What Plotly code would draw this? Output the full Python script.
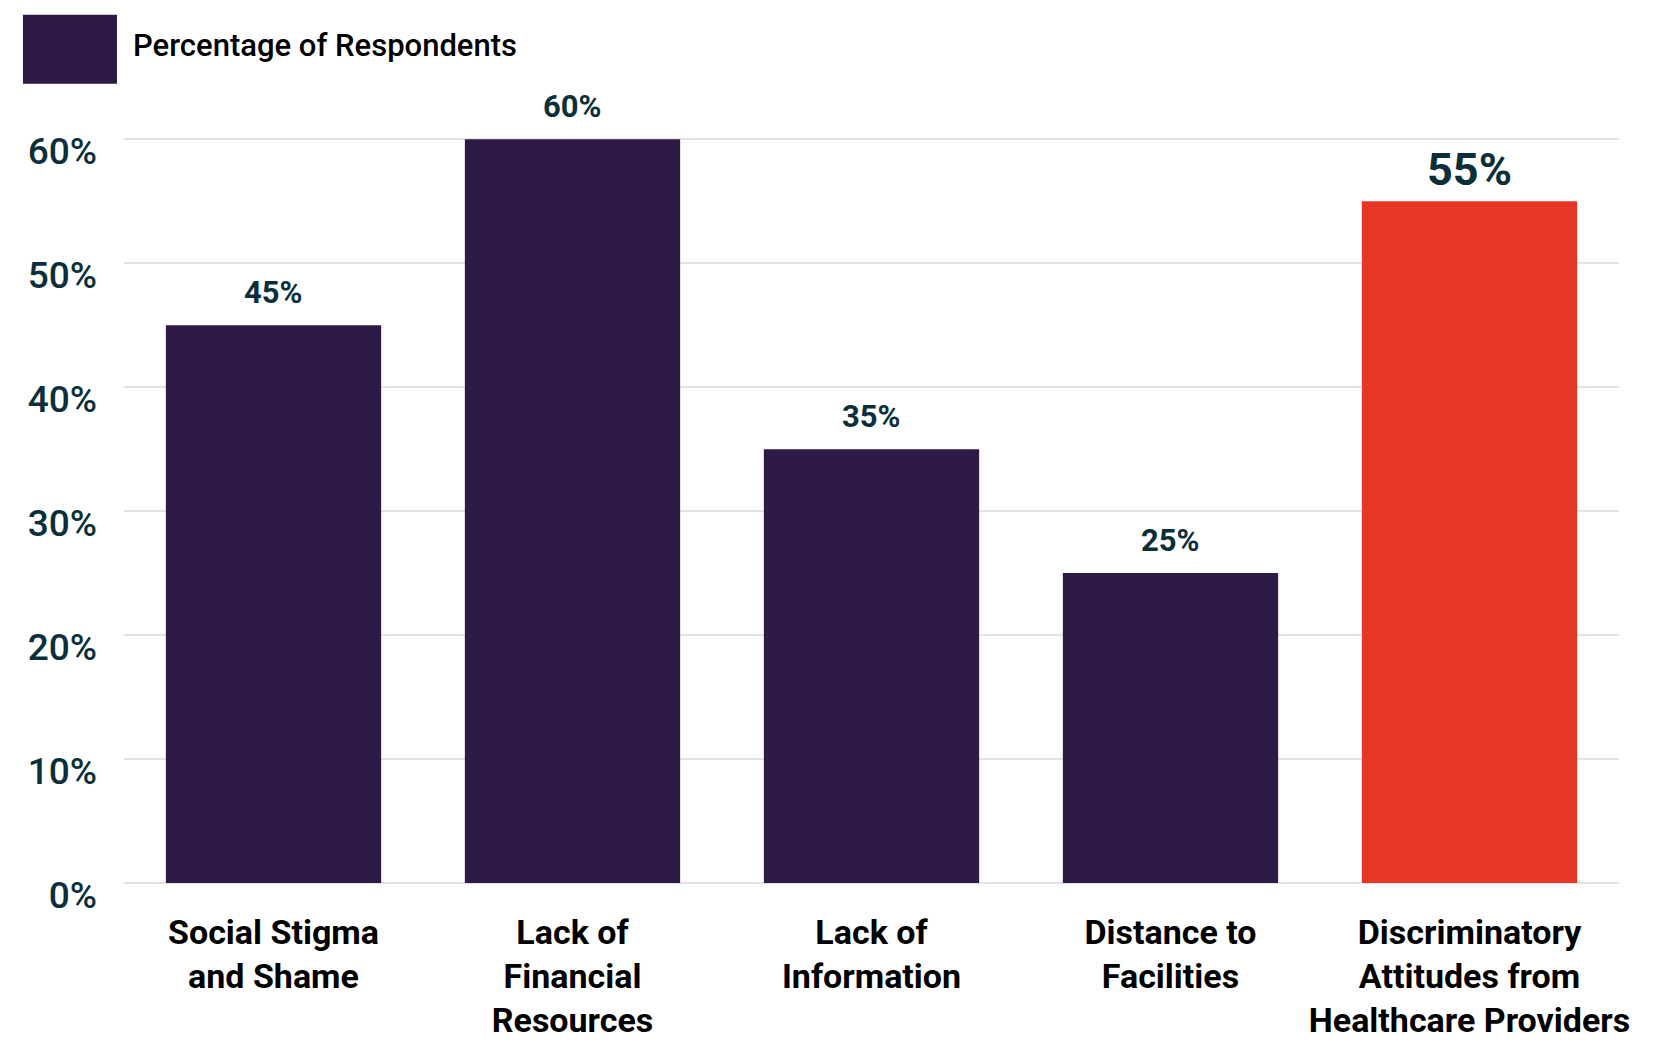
import plotly.graph_objects as go

CATEGORIES = [
    "Social Stigma<br>and Shame",
    "Lack of<br>Financial<br>Resources",
    "Lack of<br>Information",
    "Distance to<br>Facilities",
    "Discriminatory<br>Attitudes from<br>Healthcare Providers",
]
PERCENTAGES = [45, 60, 35, 25, 55]
HIGHLIGHT = [False, False, False, False, True]
SERIES_NAME = "Percentage of Respondents"
Y_TICKS = [0, 10, 20, 30, 40, 50, 60]

BAR_COLOR = "#2e1a47"
HIGHLIGHT_COLOR = "#e63726"
LABEL_COLOR = "#0b2f3a"
FONT = "Roboto, sans-serif"

colors = [HIGHLIGHT_COLOR if h else BAR_COLOR for h in HIGHLIGHT]

fig = go.Figure(
    go.Bar(
        x=CATEGORIES,
        y=PERCENTAGES,
        name=SERIES_NAME,
        marker=dict(color=colors, line=dict(width=0)),
        showlegend=False,
        hovertemplate="%{x}: %{y}%<extra></extra>",
    )
)

# value labels above the bars
for cat, val, hl in zip(CATEGORIES, PERCENTAGES, HIGHLIGHT):
    fig.add_annotation(
        x=cat, y=val, text=f"<b>{val}%</b>", showarrow=False,
        yanchor="bottom", yshift=3 if hl else 12,
        font=dict(size=45 if hl else 31, color=LABEL_COLOR, family=FONT),
    )

# legend swatch + label drawn by hand so the swatch can be large
fig.add_shape(type="rect", xref="paper", yref="paper",
              x0=-0.0676, x1=-0.0047, y0=1.0727, y1=1.1656,
              fillcolor=BAR_COLOR, line=dict(width=0))
fig.add_annotation(text=SERIES_NAME, xref="paper", yref="paper",
                   x=0.0047, y=1.1238, xanchor="left", yanchor="middle",
                   showarrow=False,
                   font=dict(size=31, color="#000000", family=FONT, weight=500))

# page body adds 8px offset, so margins are shifted to compensate
fig.update_layout(
    width=1653,
    height=1045,
    paper_bgcolor="white",
    plot_bgcolor="white",
    font=dict(family=FONT, color=LABEL_COLOR),
    margin=dict(l=116, r=42, t=130, b=170),
    bargap=0.28,
    xaxis=dict(
        tickfont=dict(size=34, color="#000000", family=FONT),
        ticklabelstandoff=26,
        showline=False,
        ticks="",
        tickprefix="<b>",
        ticksuffix="</b>",
    ),
    yaxis=dict(
        range=[0, 60.1],
        tickvals=Y_TICKS,
        ticktext=[f"{v}%" for v in Y_TICKS],
        tickfont=dict(size=37, color=LABEL_COLOR, weight=500),
        gridcolor="#e3e3e3",
        gridwidth=1.5,
        zeroline=True,
        zerolinecolor="#e3e3e3",
        zerolinewidth=2,
        ticklabelstandoff=26,
        ticklabelshift=12,
    ),
)

fig.write_html("out.html")
